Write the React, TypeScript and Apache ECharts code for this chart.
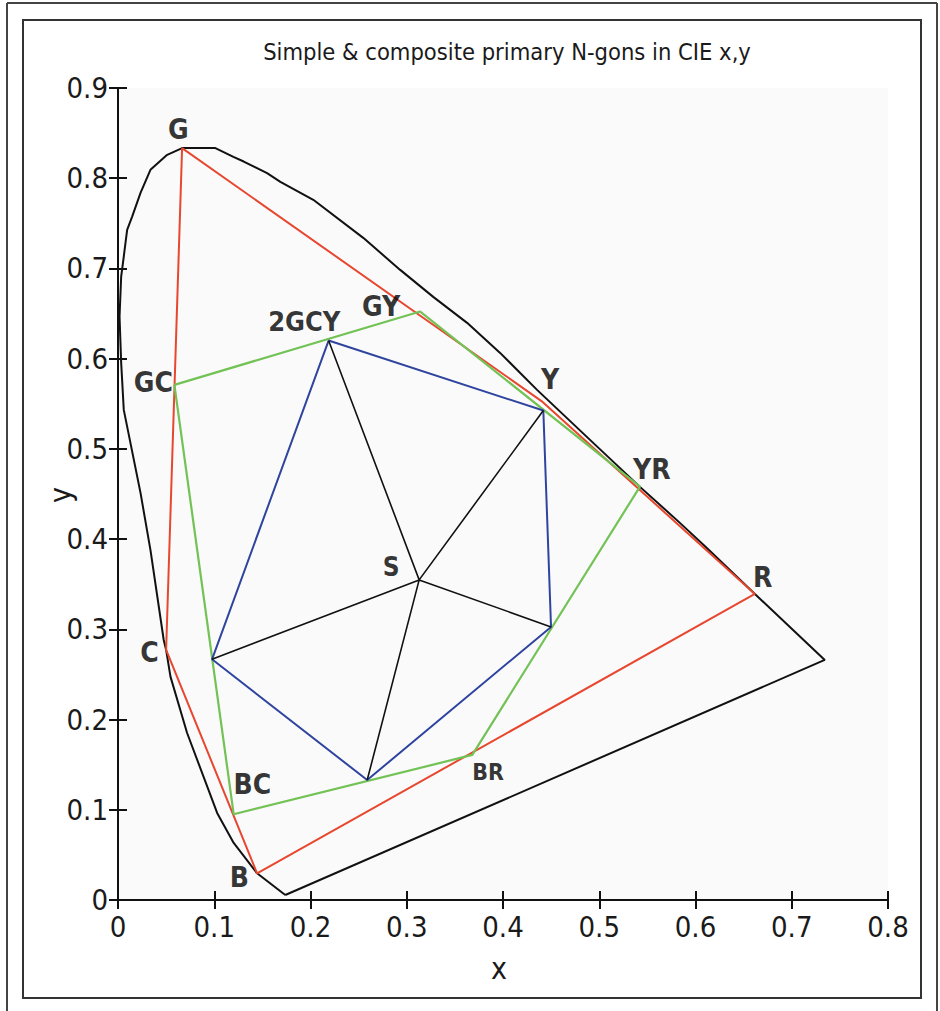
import React, { useEffect, useRef } from "react";
import * as echarts from "echarts";

// ---- Data (CIE x,y) ----
// Spectral locus (closed by the purple line back to the start)
const locus: number[][] = [
  [0.1738, 0.0055], [0.1445, 0.0296], [0.1202, 0.0632], [0.103, 0.0965],
  [0.0718, 0.1851], [0.0545, 0.2476], [0.05, 0.2772], [0.0475, 0.2882],
  [0.0337, 0.388], [0.0234, 0.4512], [0.006, 0.5432], [0.0033, 0.5953],
  [0.0016, 0.6467], [0.0033, 0.691], [0.006, 0.7132], [0.0095, 0.7428],
  [0.0147, 0.7575], [0.0234, 0.7838], [0.0337, 0.8093], [0.0511, 0.8259],
  [0.0666, 0.8334], [0.1012, 0.8334], [0.1199, 0.8237], [0.1306, 0.8185],
  [0.1549, 0.8056], [0.1687, 0.796], [0.2029, 0.7761], [0.2548, 0.7339],
  [0.2932, 0.6984], [0.3275, 0.6685], [0.3627, 0.6397], [0.397, 0.6064],
  [0.4354, 0.5654], [0.4904, 0.51], [0.5423, 0.4579], [0.5838, 0.418],
  [0.6118, 0.3902], [0.6617, 0.3392], [0.7343, 0.2661], [0.1738, 0.0055],
];

// Simple primaries (red): G, Y, R, B, C
const simplePrimaries: number[][] = [
  [0.0666, 0.8334], [0.44, 0.553], [0.6617, 0.3392], [0.1445, 0.0296],
  [0.05, 0.2772], [0.0666, 0.8334],
];

// Composite primaries (green): GC, GY, YR, BR, BC
const compositePrimaries: number[][] = [
  [0.0586, 0.571], [0.314, 0.6522], [0.5423, 0.4582], [0.3681, 0.1608],
  [0.1202, 0.095], [0.0586, 0.571],
];

// Blue pentagon vertices
const blueVertices: number[][] = [
  [0.2188, 0.6201], [0.4419, 0.5425], [0.4499, 0.3027], [0.2589, 0.133],
  [0.0977, 0.2668],
];

// Centre point S
const centreS: number[] = [0.3129, 0.3548];

// Point labels
const labelNames = ["G", "GC", "C", "BC", "B", "BR", "R", "YR", "Y", "GY", "2GCY", "S"];
const labelPos: number[][] = [
  [0.0628, 0.8537], [0.0368, 0.5732], [0.0327, 0.2738], [0.1396, 0.1275],
  [0.1261, 0.0244], [0.3845, 0.1419], [0.6699, 0.357], [0.5547, 0.4767],
  [0.4489, 0.5765], [0.2734, 0.6574], [0.1936, 0.6408], [0.2838, 0.3692],
];
const labelSizes = [28, 28, 28, 28, 28, 23, 28, 28, 28, 28, 27, 26];

const xTicks = { min: 0, max: 0.8, interval: 0.1 };
const yTicks = { min: 0, max: 0.9, interval: 0.1 };

const titleText = "Simple & composite primary N-gons in CIE x,y";

const FONT = "'DejaVu Sans Condensed', 'Liberation Sans Narrow', 'Arial Narrow', sans-serif";
const RED = "#e8472f";
const GREEN = "#72c255";
const BLUE = "#2f449e";

export default function App() {
  const ref = useRef<HTMLDivElement>(null);
  useEffect(() => {
    if (!ref.current) return;
    const chart = echarts.init(ref.current, null, { renderer: "svg" });

    const bluePoly = [...blueVertices, blueVertices[0]];
    const spokes: number[][] = [];
    blueVertices.forEach((p, i) => {
      if (i > 0) spokes.push(centreS);
      spokes.push(p);
    });

    const axisCommon = {
      type: "value" as const,
      axisLine: { show: true, lineStyle: { color: "#111", width: 2 } },
      axisTick: { show: true, inside: true, length: 9, lineStyle: { color: "#111", width: 2 } },
      splitLine: { show: false },
    };

    const lineSeries = (name: string, data: number[][], color: string, width: number) => ({
      name,
      type: "line",
      data,
      showSymbol: false,
      symbol: "none",
      smooth: false,
      lineStyle: { color, width },
      z: 3,
    });

    chart.setOption({
      animation: false,
      backgroundColor: "#ffffff",
      grid: {
        left: 118,
        right: 52,
        top: 88,
        bottom: 111,
        show: true,
        backgroundColor: "#fafafa",
        borderWidth: 0,
      },
      xAxis: [
        {
          ...axisCommon,
          min: xTicks.min,
          max: xTicks.max,
          interval: xTicks.interval,
          position: "bottom",
          axisLabel: { color: "#1a1a1a", fontSize: 29, fontFamily: FONT, margin: 12 },
        },
        {
          ...axisCommon,
          min: xTicks.min,
          max: xTicks.max,
          interval: xTicks.interval,
          position: "top",
          axisLabel: { show: false },
        },
      ],
      yAxis: [
        {
          ...axisCommon,
          min: yTicks.min,
          max: yTicks.max,
          interval: yTicks.interval,
          position: "left",
          axisLabel: { color: "#1a1a1a", fontSize: 29, fontFamily: FONT, margin: 10 },
        },
        {
          ...axisCommon,
          min: yTicks.min,
          max: yTicks.max,
          interval: yTicks.interval,
          position: "right",
          axisLabel: { show: false },
        },
      ],
      series: [
        lineSeries("locus", locus, "#111111", 2),
        lineSeries("simple", simplePrimaries, RED, 2),
        lineSeries("composite", compositePrimaries, GREEN, 2.2),
        lineSeries("blue", bluePoly, BLUE, 2),
        lineSeries("spokes", spokes, "#111111", 1.6),
        {
          name: "labels",
          type: "scatter",
          symbolSize: 0,
          z: 5,
          data: labelNames.map((n, i) => ({
            name: n,
            value: labelPos[i],
            label: { fontSize: labelSizes[i] },
          })),
          label: {
            show: true,
            position: "inside",
            formatter: (p: any) => p.name,
            color: "#000",
            fontWeight: "bold",
            fontFamily: FONT,
            fontSize: 28,
          },
        },
      ],
      graphic: [
        {
          type: "rect",
          shape: { x: 23, y: 20, width: 898, height: 978 },
          style: { fill: "none", stroke: "#333", lineWidth: 2 },
          silent: true,
        },
        { type: "line", shape: { x1: 7, y1: 3, x2: 937, y2: 3 }, style: { stroke: "#444", lineWidth: 2 } },
        { type: "line", shape: { x1: 7, y1: 3, x2: 7, y2: 1011 }, style: { stroke: "#444", lineWidth: 2 } },
        { type: "line", shape: { x1: 937, y1: 3, x2: 937, y2: 1011 }, style: { stroke: "#444", lineWidth: 2 } },
        {
          type: "text",
          x: 507,
          y: 52,
          style: {
            text: titleText,
            fontSize: 23.5,
            fontFamily: FONT,
            fill: "#1a1a1a",
            textAlign: "center",
            textVerticalAlign: "middle",
          },
        },
        {
          type: "text",
          x: 499,
          y: 968,
          style: {
            text: "x",
            fontSize: 30,
            fontFamily: FONT,
            fill: "#1a1a1a",
            textAlign: "center",
            textVerticalAlign: "middle",
          },
        },
        {
          type: "text",
          x: 60,
          y: 495,
          rotation: Math.PI / 2,
          style: {
            text: "y",
            fontSize: 30,
            fontFamily: FONT,
            fill: "#1a1a1a",
            textAlign: "center",
            textVerticalAlign: "middle",
          },
        },
      ],
    });

    return () => chart.dispose();
  }, []);

  return (
    <div
      ref={ref}
      style={{ position: "fixed", left: 0, top: 0, width: 940, height: 1011 }}
    />
  );
}
